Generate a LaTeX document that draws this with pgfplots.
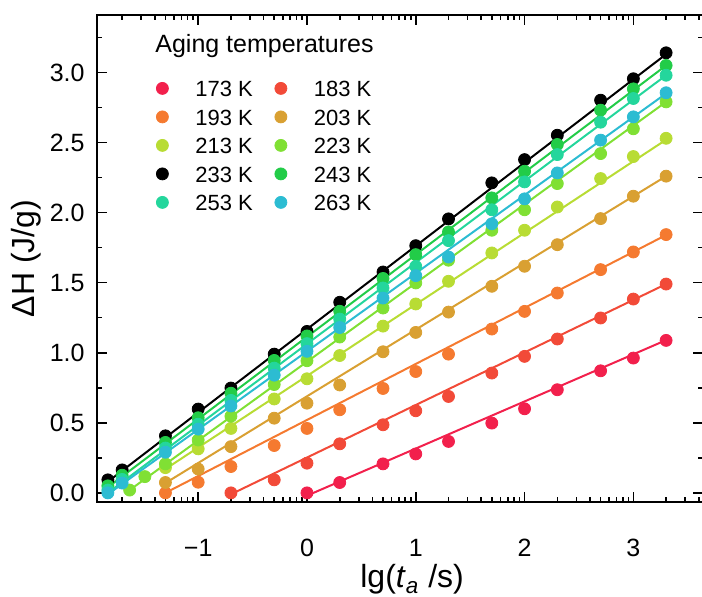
\documentclass[border=0pt]{standalone}
\usepackage{fontspec}
\setmainfont{Liberation Sans}
\usepackage{pgfplots}
\usepackage{pgfplotstable}
\pgfplotsset{compat=1.18}

\definecolor{c173}{HTML}{F2204C}
\definecolor{c183}{HTML}{F24A38}
\definecolor{c193}{HTML}{F57A30}
\definecolor{c203}{HTML}{D9A032}
\definecolor{c213}{HTML}{B8DC34}
\definecolor{c223}{HTML}{80E034}
\definecolor{c233}{HTML}{000000}
\definecolor{c243}{HTML}{22CC48}
\definecolor{c253}{HTML}{24D69C}
\definecolor{c263}{HTML}{2CBCD2}

\pgfplotstableread{
x y
0 0
0.301 0.074
0.699 0.207
1 0.278
1.301 0.367
1.699 0.498
2 0.60
2.301 0.736
2.699 0.871
3 0.962
3.301 1.088
}\dA
\pgfplotstableread{
x y
-0.699 0
-0.301 0.093
0 0.212
0.301 0.35
0.699 0.486
1 0.586
1.301 0.688
1.699 0.855
2 0.974
2.301 1.098
2.699 1.248
3 1.383
3.301 1.49
}\dB
\pgfplotstableread{
x y
-1.301 0
-1 0.076
-0.699 0.188
-0.301 0.338
0 0.46
0.301 0.593
0.699 0.745
1 0.866
1.301 0.99
1.699 1.169
2 1.295
2.301 1.426
2.699 1.593
3 1.719
3.301 1.843
}\dC
\pgfplotstableread{
x y
-1.301 0.074
-1 0.17
-0.699 0.33
-0.301 0.533
0 0.64
0.301 0.77
0.699 1.007
1 1.145
1.301 1.29
1.699 1.474
2 1.617
2.301 1.771
2.699 1.957
3 2.117
3.301 2.26
}\dD
\pgfplotstableread{
x y
-1.301 0.18
-1 0.314
-0.699 0.46
-0.301 0.67
0 0.814
0.301 0.98
0.699 1.19
1 1.348
1.301 1.51
1.699 1.712
2 1.874
2.301 2.04
2.699 2.243
3 2.40
3.301 2.53
}\dE
\pgfplotstableread{
x y
-1.63 0.02
-1.49 0.116
-1.301 0.207
-1 0.377
-0.699 0.547
-0.301 0.773
0 0.943
0.301 1.112
0.699 1.319
1 1.498
1.301 1.66
1.699 1.874
2 2.02
2.301 2.207
2.699 2.421
3 2.598
3.301 2.79
}\dF
\pgfplotstableread{
x y
-1.83 0.093
-1.699 0.164
-1.301 0.407
-1 0.598
-0.699 0.748
-0.301 0.99
0 1.152
0.301 1.36
0.699 1.576
1 1.764
1.301 1.955
1.699 2.212
2 2.378
2.301 2.552
2.699 2.802
3 2.955
3.301 3.14
}\dG
\pgfplotstableread{
x y
-1.83 0.05
-1.699 0.126
-1.301 0.36
-1 0.536
-0.699 0.711
-0.301 0.945
0 1.12
0.301 1.296
0.699 1.53
1 1.70
1.301 1.862
1.699 2.105
2 2.295
2.301 2.486
2.699 2.731
3 2.883
3.301 3.05
}\dH
\pgfplotstableread{
x y
-1.83 0.02
-1.699 0.096
-1.301 0.32
-1 0.49
-0.699 0.66
-0.301 0.89
0 1.065
0.301 1.24
0.699 1.462
1 1.616
1.301 1.80
1.699 2.02
2 2.219
2.301 2.414
2.699 2.645
3 2.814
3.301 2.98
}\dI
\pgfplotstableread{
x y
-1.83 0.0
-1.699 0.07
-1.301 0.29
-1 0.455
-0.699 0.62
-0.301 0.84
0 1.01
0.301 1.18
0.699 1.39
1 1.55
1.301 1.683
1.699 1.92
2 2.098
2.301 2.283
2.699 2.517
3 2.683
3.301 2.855
}\dJ

\begin{document}
\begin{tikzpicture}
\path[use as bounding box] (-48.5pt,-47.5pt) rectangle (302.5pt,251pt);
\begin{axis}[
  at={(0,0)}, anchor=south west,
  scale only axis, width=303pt, height=243.5pt,
  xmin=-1.93, xmax=3.64, ymin=-0.065, ymax=3.41,
  axis line style={line width=0.8pt},
  tick align=inside, tick style={line width=0.8pt, black},
  major tick length=5pt, minor tick length=2.6pt,
  xtick={-1,0,1,2,3}, xticklabels={−1,0,1,2,3},
  minor xtick={-1.699,-1.523,-1.398,-1.301,-1.222,-1.155,-1.097,-1.046,
    -0.699,-0.523,-0.398,-0.301,-0.222,-0.155,-0.097,-0.046,
    0.301,0.477,0.602,0.699,0.778,0.845,0.903,0.954,
    1.301,1.477,1.602,1.699,1.778,1.845,1.903,1.954,
    2.301,2.477,2.602,2.699,2.778,2.845,2.903,2.954,
    3.301,3.477,3.602},
  ytick={0,0.5,1,1.5,2,2.5,3}, yticklabels={0.0,0.5,1.0,1.5,2.0,2.5,3.0},
  minor ytick={0.25,0.75,1.25,1.75,2.25,2.75,3.25},
  xticklabel style={font=\fontsize{12.5}{14}\selectfont, anchor=north, inner sep=0pt, text height=9pt, text depth=0pt, yshift=-18pt},
  yticklabel style={font=\fontsize{12.5}{14}\selectfont, anchor=east, inner sep=0pt, text height=9pt, text depth=0pt, xshift=-6pt},
  xlabel={lg(\textit{t}\textsubscript{\textit{a}} /s)},
  ylabel={ΔH (J/g)},
  every axis x label/.style={at={(axis description cs:0.52,-0.1766)}, anchor=base, font=\fontsize{16}{18}\selectfont},
  every axis y label/.style={at={(axis description cs:-0.1163,0.5)}, rotate=90, anchor=center, font=\fontsize{16}{18}\selectfont},
  legend columns=2,
  legend image code/.code={\path[draw=none, fill=none] (-3pt,-3pt) rectangle (16.5pt,3pt); \draw[#1] plot coordinates {(0pt,0pt)};},
  legend style={draw=none, fill=none, inner sep=0pt, outer sep=0pt,
    at={(axis description cs:0.098,0.8665)}, anchor=north west,
    row sep=5.85pt,
    nodes={inner sep=0pt, font=\fontsize{11}{13}\selectfont, text height=8.4pt, text depth=0pt},
    /tikz/every even column/.append style={column sep=11pt}},
  legend cell align=left,
]
\addplot[c173, line width=1pt, forget plot] coordinates {(0,-0.02) (3.301,1.09)};
\addplot[c183, line width=1pt, forget plot] coordinates {(-0.699,-0.01) (3.301,1.49)};
\addplot[c193, line width=1pt, forget plot] coordinates {(-1.301,0.0) (3.301,1.84)};
\addplot[c203, line width=1pt, forget plot] coordinates {(-1.301,0.07) (3.301,2.26)};
\addplot[c213, line width=1pt, forget plot] coordinates {(-1.301,0.17) (3.301,2.52)};
\addplot[c223, line width=1pt, forget plot] coordinates {(-1.63,0.02) (3.301,2.79)};
\addplot[c233, line width=1pt, forget plot] coordinates {(-1.83,0.08) (3.301,3.13)};
\addplot[c243, line width=1pt, forget plot] coordinates {(-1.83,0.04) (3.301,3.05)};
\addplot[c253, line width=1pt, forget plot] coordinates {(-1.83,0.0) (3.301,2.98)};
\addplot[c263, line width=1pt, forget plot] coordinates {(-1.83,-0.01) (3.301,2.85)};

\addplot[only marks, mark=*, mark size=3pt, c173] table {\dA}; \addlegendentry{173 K}
\addplot[only marks, mark=*, mark size=3pt, c183] table {\dB}; \addlegendentry{183 K}
\addplot[only marks, mark=*, mark size=3pt, c193] table {\dC}; \addlegendentry{193 K}
\addplot[only marks, mark=*, mark size=3pt, c203] table {\dD}; \addlegendentry{203 K}
\addplot[only marks, mark=*, mark size=3pt, c213] table {\dE}; \addlegendentry{213 K}
\addplot[only marks, mark=*, mark size=3pt, c223] table {\dF}; \addlegendentry{223 K}
\addplot[only marks, mark=*, mark size=3pt, c233] table {\dG}; \addlegendentry{233 K}
\addplot[only marks, mark=*, mark size=3pt, c243] table {\dH}; \addlegendentry{243 K}
\addplot[only marks, mark=*, mark size=3pt, c253] table {\dI}; \addlegendentry{253 K}
\addplot[only marks, mark=*, mark size=3pt, c263] table {\dJ}; \addlegendentry{263 K}

\node[anchor=base west, inner sep=0pt, font=\fontsize{12.5}{14}\selectfont] at (axis description cs:0.0957,0.922) {Aging temperatures};
\end{axis}
\end{tikzpicture}
\end{document}
